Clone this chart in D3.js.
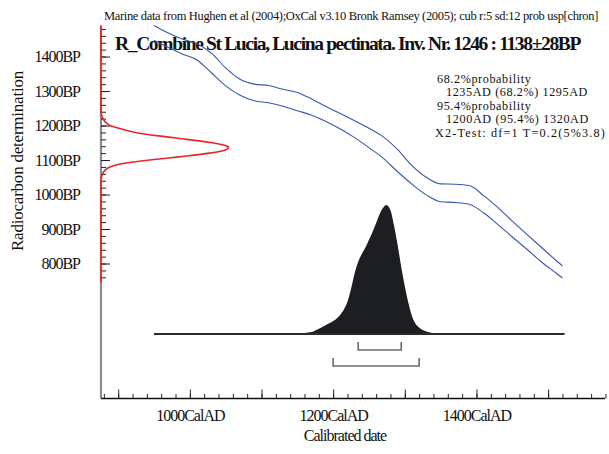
<!DOCTYPE html>
<html>
<head>
<meta charset="utf-8">
<script src="https://cdn.jsdelivr.net/npm/d3@7"></script>
<style>
  body { margin: 0; background: #fff; }
  text { font-family: "Liberation Serif", "Times New Roman", serif; fill: #111; }
</style>
</head>
<body>
<svg id="chart" width="609" height="454"></svg>
<script>
// Calibration curve envelope (marine, ±1 sigma), BP at calendar years AD
const calYears   = [950, 970, 990, 1010, 1030, 1050, 1070, 1090, 1110, 1130, 1150, 1170, 1190, 1210, 1230, 1250, 1270, 1290, 1310, 1330, 1350, 1370, 1390, 1410, 1430, 1450, 1470, 1490, 1510, 1520];
const curveUpper = [1490, 1468, 1450, 1437, 1410, 1367, 1334, 1320, 1316, 1305, 1296, 1277, 1255, 1235, 1214, 1192, 1167, 1130, 1084, 1050, 1031, 1030, 1026, 997, 962, 923, 885, 848, 811, 793];
const curveLower = [1447, 1426, 1407, 1390, 1353, 1315, 1288, 1272, 1266, 1256, 1243, 1230, 1212, 1190, 1165, 1136, 1105, 1066, 1030, 999, 979, 977, 972, 947, 913, 877, 842, 806, 774, 758];

// Calibrated probability (relative to maximum)
const postYears = [1150, 1160, 1170, 1180, 1190, 1200, 1210, 1215, 1220, 1225, 1230, 1235, 1240, 1245, 1250, 1255, 1260, 1265, 1270, 1274, 1280, 1285, 1290, 1295, 1300, 1305, 1310, 1315, 1320, 1330, 1340, 1350];
const postProb  = [0, 0.008, 0.015, 0.04, 0.07, 0.10, 0.15, 0.19, 0.25, 0.35, 0.47, 0.56, 0.62, 0.67, 0.73, 0.79, 0.86, 0.93, 0.98, 1.0, 0.96, 0.84, 0.69, 0.52, 0.37, 0.24, 0.14, 0.08, 0.05, 0.02, 0.006, 0];

// Radiocarbon determination 1138±28BP (relative to maximum)
const bpValues = [745, 1040, 1050, 1060, 1070, 1080, 1090, 1100, 1110, 1120, 1130, 1137, 1140, 1150, 1160, 1170, 1180, 1190, 1200, 1210, 1220, 1230, 1240, 1490];
const bpProb   = [0, 0, 0.004, 0.012, 0.03, 0.07, 0.17, 0.38, 0.63, 0.85, 0.98, 1.0, 0.99, 0.87, 0.67, 0.45, 0.27, 0.16, 0.07, 0.035, 0.015, 0.005, 0, 0];

// Highest probability ranges
const range68 = [1235, 1295];
const range95 = [1200, 1320];

// Axis ticks and labels
const xMajorTicks = d3.range(900, 1600, 100);
const xMinorTicks = d3.range(880, 1590, 20);
const xTickLabels = [1000, 1200, 1400];
const yMajorTicks = [800, 900, 1000, 1100, 1200, 1300, 1400];
const yMinorTicks = d3.range(760, 1500, 20);

const headerText = "Marine data from Hughen et al (2004);OxCal v3.10 Bronk Ramsey (2005); cub r:5 sd:12 prob usp[chron]";
const titleText = "R_Combine St Lucia, Lucina pectinata. Inv. Nr. 1246 : 1138\u00b128BP";
const summaryLines = [
  "68.2%probability",
  "1235AD (68.2%) 1295AD",
  "95.4%probability",
  "1200AD (95.4%) 1320AD",
  "X2-Test: df=1 T=0.2(5%3.8)"
];

const svg = d3.select("#chart");

// Tighten letter spacing so a text spans the given width
function fitWidth(sel, width) {
  const n = sel.text().length;
  const natural = sel.node().getComputedTextLength();
  const ls = (width - natural) / n;
  sel.attr("letter-spacing", ls.toFixed(3) + "px");
  return ls;
}

// Scales
const x = d3.scaleLinear().domain([876, 1578]).range([101, 604]);
const y = d3.scaleLinear().domain([745, 1490]).range([282.5, 25.5]);
const probX = d3.scaleLinear().domain([0, 1]).range([101, 228.6]);
const postY = d3.scaleLinear().domain([0, 1]).range([334, 205]);
const axisY = 398.5;

// Header and title
fitWidth(svg.append("text").attr("x", 104).attr("y", 20)
  .attr("font-size", 12.5).text(headerText), 494);
fitWidth(svg.append("text").attr("x", 115).attr("y", 50)
  .attr("font-size", 19.5).attr("font-weight", "bold").text(titleText), 465);

// Calibration curve envelope
const calLine = vals => d3.line()
  .x((d, i) => x(calYears[i]))
  .y(d => y(d))
  .curve(d3.curveMonotoneX)(vals);
[curveUpper, curveLower].forEach(vals => {
  svg.append("path").attr("d", calLine(vals))
    .attr("fill", "none").attr("stroke", "#3a55b0").attr("stroke-width", 1.1);
});

// Calibrated distribution
const postArea = d3.area()
  .x((d, i) => x(postYears[i]))
  .y0(postY(0))
  .y1(d => postY(d))
  .curve(d3.curveMonotoneX);
svg.append("path").attr("d", postArea(postProb)).attr("fill", "#1d1e22");
svg.append("line")
  .attr("x1", x(950)).attr("x2", x(1523))
  .attr("y1", postY(0)).attr("y2", postY(0))
  .attr("stroke", "#2a2a2a").attr("stroke-width", 2);

// Range brackets
function bracket(range, top, bottom) {
  svg.append("path")
    .attr("d", `M${x(range[0])},${top}V${bottom}H${x(range[1])}V${top}`)
    .attr("fill", "none").attr("stroke", "#6a6a6a").attr("stroke-width", 1.6);
}
bracket(range68, 342, 350);
bracket(range95, 358, 366);

// Y axis
svg.append("line").attr("x1", 101).attr("x2", 101)
  .attr("y1", y(1490)).attr("y2", axisY)
  .attr("stroke", "#8c8c8c").attr("stroke-width", 2.2);

const yMinor = svg.append("g").attr("transform", "translate(101,0)")
  .call(d3.axisLeft(y).tickValues(yMinorTicks).tickSize(-5).tickFormat(""));
const yMajor = svg.append("g").attr("transform", "translate(101,0)")
  .call(d3.axisLeft(y).tickValues(yMajorTicks).tickSize(-9).tickPadding(21)
    .tickFormat(d => d + "BP"));
[yMinor, yMajor].forEach(g => {
  g.select(".domain").remove();
  g.selectAll(".tick line").attr("stroke", "#222").attr("stroke-width", 1);
});
yMajor.selectAll(".tick text")
  .attr("font-family", "Liberation Serif, serif").attr("font-size", 16)
  .attr("letter-spacing", "-1px").attr("fill", "#111");

// Radiocarbon distribution on the y axis
const bpLine = d3.line()
  .x(d => probX(d))
  .y((d, i) => y(bpValues[i]))
  .curve(d3.curveMonotoneY);
svg.append("path").attr("d", bpLine(bpProb))
  .attr("fill", "none").attr("stroke", "#e8262b").attr("stroke-width", 1.6);

// X axis
svg.append("line").attr("x1", 101).attr("x2", 605)
  .attr("y1", axisY).attr("y2", axisY)
  .attr("stroke", "#111").attr("stroke-width", 1.5);
const xMinor = svg.append("g").attr("transform", `translate(0,${axisY})`)
  .call(d3.axisBottom(x).tickValues(xMinorTicks).tickSize(-4.5).tickFormat(""));
const xMajor = svg.append("g").attr("transform", `translate(0,${axisY})`)
  .call(d3.axisBottom(x).tickValues(xMajorTicks).tickSize(-9).tickPadding(11)
    .tickFormat(d => xTickLabels.includes(d) ? d + "CalAD" : ""));
[xMinor, xMajor].forEach(g => {
  g.select(".domain").remove();
  g.selectAll(".tick line").attr("stroke", "#222").attr("stroke-width", 1);
});
xMajor.selectAll(".tick text")
  .attr("font-family", "Liberation Serif, serif").attr("font-size", 16)
  .attr("letter-spacing", "-1px").attr("fill", "#111");

// Axis titles
svg.append("text").attr("x", 345).attr("y", 441)
  .attr("text-anchor", "middle").attr("font-size", 16).attr("letter-spacing", "-1px")
  .text("Calibrated date");
const yTitle = svg.append("text")
  .attr("transform", "translate(23,161) rotate(-90)")
  .attr("text-anchor", "middle").attr("font-size", 17)
  .text("Radiocarbon determination");
fitWidth(yTitle, 180);

// Summary text
const summaryX = [437, 446, 437, 446, 435];
const summaryBase = [82.5, 96, 109.5, 123, 136.5];
const summaryTexts = summaryLines.map((t, i) =>
  svg.append("text").attr("x", summaryX[i]).attr("y", summaryBase[i])
    .attr("font-size", 12.2).text(t));
const lsRange = fitWidth(summaryTexts[1], 142);
fitWidth(summaryTexts[3], 143);
fitWidth(summaryTexts[4], 171);
summaryTexts[0].attr("letter-spacing", lsRange.toFixed(3) + "px");
summaryTexts[2].attr("letter-spacing", lsRange.toFixed(3) + "px");
</script>
</body>
</html>
